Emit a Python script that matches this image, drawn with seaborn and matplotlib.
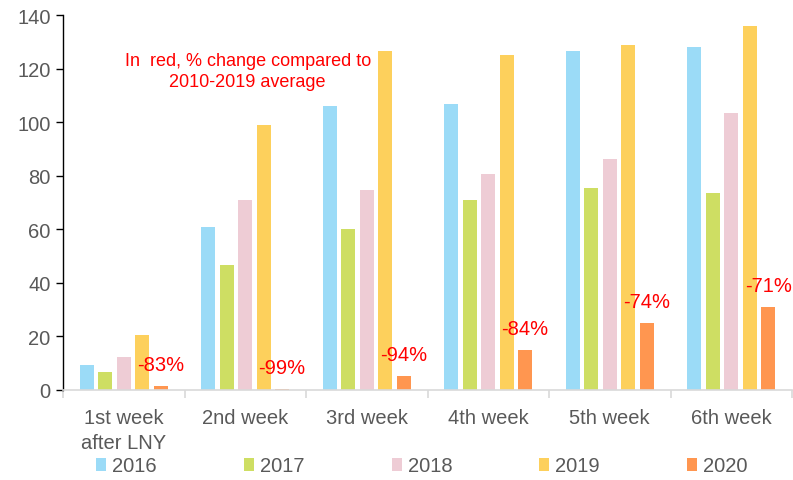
import pandas as pd
import numpy as np
import seaborn as sns
import matplotlib.pyplot as plt

weeks = ["1st week\nafter LNY", "2nd week", "3rd week", "4th week", "5th week", "6th week"]
years = ["2016", "2017", "2018", "2019", "2020"]

vals_2016 = [9.2, 60.7, 105.9, 106.6, 126.4, 128.2]
vals_2017 = [6.6, 46.6, 60.1, 70.9, 75.4, 73.5]
vals_2018 = [12.3, 70.9, 74.6, 80.5, 86.2, 103.4]
vals_2019 = [20.5, 98.9, 126.4, 125.0, 128.8, 135.8]
vals_2020 = [1.4, 0.3, 5.2, 14.9, 25.1, 30.9]
pct_change = ["-83%", "-99%", "-94%", "-84%", "-74%", "-71%"]

palette = ["#9BDBF7", "#CEDE63", "#EECCD5", "#FDD05C", "#FF9650"]

# long format for seaborn
series = [vals_2016, vals_2017, vals_2018, vals_2019, vals_2020]
rows = []
for yr, vals in zip(years, series):
    for wk, v in zip(weeks, vals):
        rows.append({"week": wk, "year": yr, "value": v})
df = pd.DataFrame(rows)

sns.set_style("white")
plt.rcParams['font.family'] = ['Liberation Sans', 'DejaVu Sans']

fig = plt.figure(figsize=(7.93, 4.81), dpi=100)
ax = fig.add_axes([63 / 793, 1 - 391 / 481, 729 / 793, 375 / 481])

sns.barplot(data=df, x="week", y="value", hue="year", order=weeks, hue_order=years,
            palette=palette, width=0.76, gap=0.24, linewidth=0, saturation=1, ax=ax,
            legend=True)

ax.set_ylim(0, 140)
ax.set_xlim(-0.5, 5.5)
ax.set_yticks(np.arange(0, 141, 20))
ax.set_xlabel("")
ax.set_ylabel("")

# axes styling
for s in ["top", "right"]:
    ax.spines[s].set_visible(False)
ax.spines["left"].set_color("#000000")
ax.spines["left"].set_linewidth(1.0)
ax.spines["bottom"].set_color("#D9D9D9")
ax.spines["bottom"].set_linewidth(1.2)
ax.tick_params(axis="y", left=True, length=5, width=1, color="#000000",
               labelsize=14.5, labelcolor="#595959", pad=4)
ax.tick_params(axis="x", which="major", length=0, labelsize=14.5, labelcolor="#595959", pad=13)
for t in ax.get_xticklabels():
    t.set_linespacing(1.4)
ax.set_xticks(np.arange(-0.5, 6.0, 1.0), minor=True)
ax.tick_params(axis="x", which="minor", bottom=True, length=6, width=1.2, color="#D9D9D9")

# red % labels above the 2020 bars
offset = 0.304
for i, (v, lab) in enumerate(zip(vals_2020, pct_change)):
    ax.text(i + offset, v + 8, lab, color="#FF0000", fontsize=14.5, ha="center", va="center")

ax.text(1.02, 119, "In  red, % change compared to\n2010-2019 average", color="#FF0000",
        fontsize=13, ha="center", va="center", linespacing=1.3)

# legend along the bottom
handles, labels = ax.get_legend_handles_labels()
ax.legend_.remove()
fig.legend(handles, labels, loc="center", bbox_to_anchor=(422 / 793, 1 - 467 / 481), ncol=5,
           frameon=False, fontsize=14.5, handlelength=0.5, handleheight=0.6, handletextpad=0.3,
           columnspacing=4.32, labelcolor="#595959")

fig.savefig("out.png", dpi=100)
